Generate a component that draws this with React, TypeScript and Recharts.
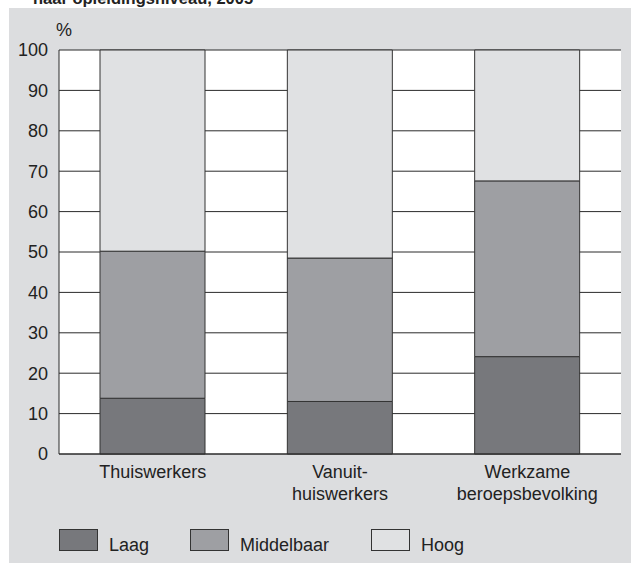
import React from "react";
import { BarChart, Bar, XAxis, YAxis, CartesianGrid } from "recharts";

const categories = ["Thuiswerkers", "Vanuit-\nhuiswerkers", "Werkzame\nberoepsbevolking"];
const laag = [13.8, 13.0, 24.1];
const middelbaar = [36.4, 35.5, 43.5];
const hoog = [49.8, 51.5, 32.4];
const yTicks = [0, 10, 20, 30, 40, 50, 60, 70, 80, 90, 100];
const seriesNames = ["Laag", "Middelbaar", "Hoog"];
const seriesColors = ["#77787c", "#9e9fa3", "#e0e1e3"];
const title = "naar opleidingsniveau, 2005";
const unitLabel = "%";

const data = categories.map((c, i) => ({
  name: c,
  Laag: laag[i],
  Middelbaar: middelbaar[i],
  Hoog: hoog[i],
}));

const FONT = "'Liberation Sans', Arial, Helvetica, sans-serif";
const TEXT = "#222";
const LINE = "#2b2b2b";

const XTick = (props: any) => {
  const { x, y, payload } = props;
  const lines = String(payload.value).split("\n");
  return (
    <g>
      {lines.map((l: string, i: number) => (
        <text
          key={i}
          x={x}
          y={y + 24 + i * 22}
          textAnchor="middle"
          fontSize={18}
          fontFamily={FONT}
          fill={TEXT}
        >
          {l}
        </text>
      ))}
    </g>
  );
};

const legendPos = [
  { sq: 59, tx: 109 },
  { sq: 190, tx: 240 },
  { sq: 371, tx: 421 },
];

export default function App() {
  return (
    <div
      style={{
        position: "absolute",
        left: 0,
        top: 0,
        width: 631,
        height: 563,
        background: "#fff",
        overflow: "hidden",
        fontFamily: FONT,
      }}
    >
      <div
        style={{
          position: "absolute",
          left: 9,
          top: 8,
          width: 622,
          height: 555,
          background: "#dcdddf",
        }}
      />
      <div style={{ position: "absolute", left: 0, top: 0 }}>
        <BarChart
          width={631}
          height={563}
          data={data}
          margin={{ top: 50, right: 10, left: 9, bottom: 69 }}
          barSize={105}
        >
          <CartesianGrid
            vertical={false}
            stroke={LINE}
            strokeOpacity={1}
            fill="#ffffff"
            fillOpacity={1}
          />
          <XAxis
            dataKey="name"
            height={40}
            tickLine={false}
            tickSize={0}
            tickMargin={0}
            axisLine={{ stroke: LINE }}
            tick={<XTick />}
            interval={0}
          />
          <YAxis
            width={50}
            domain={[0, 100]}
            ticks={yTicks}
            tickLine={false}
            tickSize={0}
            tickMargin={11}
            axisLine={{ stroke: LINE }}
            tick={{ fontSize: 18, fill: TEXT, fontFamily: FONT }}
            interval={0}
          />
          <YAxis
            yAxisId="right"
            orientation="right"
            width={0}
            domain={[0, 100]}
            tick={false}
            tickLine={false}
            axisLine={{ stroke: LINE }}
          />
          {seriesNames.map((s, i) => (
            <Bar
              key={s}
              dataKey={s}
              stackId="a"
              fill={seriesColors[i]}
              stroke="#333"
              strokeWidth={1}
              isAnimationActive={false}
            />
          ))}
        </BarChart>
      </div>
      <svg
        width={631}
        height={563}
        style={{ position: "absolute", left: 0, top: 0, pointerEvents: "none" }}
      >
        <text x={33} y={4} fontSize={16.5} fontWeight="bold" fontFamily={FONT} fill={TEXT}>
          {title}
        </text>
        <text x={56} y={36} fontSize={18} fontFamily={FONT} fill={TEXT}>
          {unitLabel}
        </text>
        {seriesNames.map((s, i) => (
          <g key={s}>
            <rect
              x={legendPos[i].sq + 0.5}
              y={529.5}
              width={38}
              height={21}
              fill={seriesColors[i]}
              stroke="#333"
              strokeWidth={1}
            />
            <text x={legendPos[i].tx} y={551} fontSize={18} fontFamily={FONT} fill={TEXT}>
              {s}
            </text>
          </g>
        ))}
      </svg>
    </div>
  );
}
